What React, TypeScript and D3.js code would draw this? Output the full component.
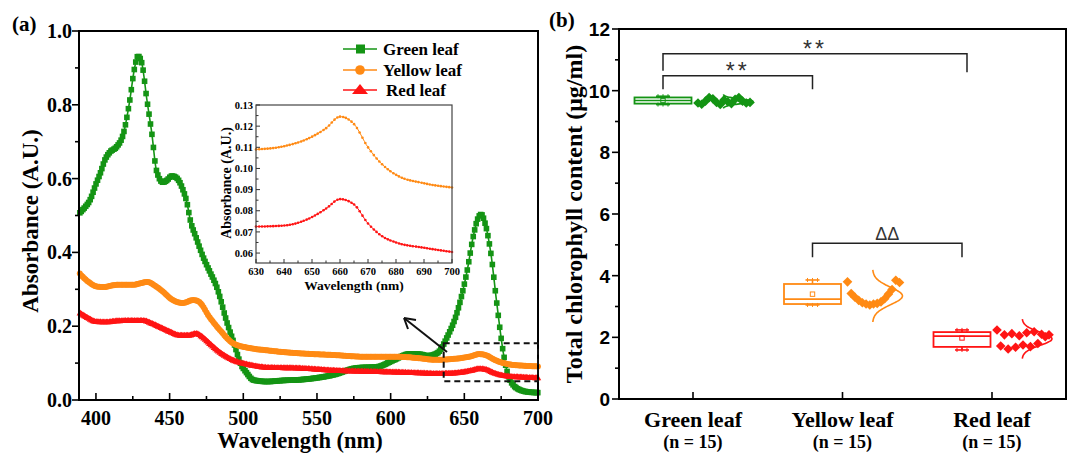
import React, { useEffect, useRef } from "react";
import * as d3 from "d3";

const W = 1071;
const H = 456;

// ---- panel (a): absorbance spectra ----
const greenWl = [388.5, 392, 396, 400, 403, 406, 409.5, 414, 418.5, 423, 426, 428.5, 431, 434.6, 438, 441, 445.5, 448, 451.5, 454, 456, 459, 461.8, 464, 468, 472.7, 477, 482, 489, 494, 498, 502, 507, 516, 527, 538.6, 550, 561, 577, 591, 602, 613, 620, 625, 631.6, 638.4, 645, 652, 656, 659, 661.5, 664, 668, 672, 676.5, 681, 688, 695, 700];
const greenAbs = [0.505, 0.52, 0.542, 0.585, 0.615, 0.65, 0.672, 0.686, 0.72, 0.813, 0.895, 0.932, 0.915, 0.813, 0.72, 0.623, 0.59, 0.595, 0.607, 0.604, 0.596, 0.57, 0.534, 0.488, 0.44, 0.388, 0.35, 0.306, 0.209, 0.15, 0.1, 0.075, 0.054, 0.05, 0.053, 0.055, 0.06, 0.068, 0.087, 0.09, 0.108, 0.125, 0.124, 0.12, 0.127, 0.171, 0.236, 0.352, 0.442, 0.49, 0.503, 0.48, 0.398, 0.263, 0.127, 0.054, 0.027, 0.021, 0.02];

const yellowWl = [388.5, 392, 396, 400, 405, 414, 425, 430, 435, 440, 445, 452, 459, 466, 470, 477, 484, 493, 504, 515, 527, 540, 561, 584, 606, 620, 630, 640, 650, 655, 660, 665, 670, 675, 680, 690, 700];
const yellowAbs = [0.345, 0.33, 0.317, 0.308, 0.306, 0.312, 0.312, 0.316, 0.32, 0.31, 0.295, 0.271, 0.263, 0.271, 0.266, 0.225, 0.19, 0.154, 0.141, 0.135, 0.13, 0.126, 0.122, 0.117, 0.117, 0.113, 0.109, 0.1105, 0.115, 0.119, 0.1245, 0.121, 0.11, 0.102, 0.097, 0.093, 0.091];

const redWl = [388.5, 395, 400, 407, 414, 425, 432, 438, 443.5, 450, 457, 463, 468, 472, 477, 483, 489, 494, 500, 508, 516, 538, 561, 585, 606, 620, 630, 640, 650, 655, 660, 665, 670, 675, 680, 690, 700];
const redAbs = [0.238, 0.222, 0.213, 0.212, 0.215, 0.216, 0.216, 0.208, 0.198, 0.186, 0.176, 0.176, 0.181, 0.172, 0.154, 0.133, 0.117, 0.107, 0.1, 0.093, 0.089, 0.087, 0.081, 0.078, 0.076, 0.074, 0.0725, 0.073, 0.077, 0.081, 0.0855, 0.083, 0.074, 0.068, 0.065, 0.0625, 0.0605];

const xTicksA = [400, 450, 500, 550, 600, 650, 700];
const yTicksA = [0.0, 0.2, 0.4, 0.6, 0.8, 1.0];
const xTicksInset = [630, 640, 650, 660, 670, 680, 690, 700];
const yTicksInset = [0.06, 0.07, 0.08, 0.09, 0.1, 0.11, 0.12, 0.13];
const zoomBox = { wl: [636, 700], abs: [0.051, 0.154] };

// ---- panel (b): chlorophyll box chart ----
const categories = ["Green leaf", "Yellow leaf", "Red leaf"];
const sampleSizes = [15, 15, 15];
const greenPts = [9.6, 9.56, 9.66, 9.78, 9.74, 9.62, 9.55, 9.7, 9.64, 9.58, 9.72, 9.78, 9.66, 9.6, 9.62];
const yellowPts = [3.8, 3.42, 3.3, 3.2, 3.12, 3.08, 3.05, 3.08, 3.1, 3.15, 3.25, 3.4, 3.55, 3.85, 3.78];
const redPts = [2.24, 1.72, 2.08, 1.62, 2.12, 1.68, 2.05, 1.75, 2.15, 1.7, 2.18, 1.8, 2.1, 2.02, 2.08];
const boxLow = [9.55, 3.05, 1.59];
const boxQ1 = [9.58, 3.08, 1.69];
const boxMedian = [9.68, 3.24, 2.04];
const boxQ3 = [9.78, 3.73, 2.17];
const boxHigh = [9.82, 3.86, 2.24];
const boxMean = [9.68, 3.4, 1.98];
const yTicksB = [0, 2, 4, 6, 8, 10, 12];

const colors = ["#149414", "#ff8a14", "#ff1414"];
const serif = "'Liberation Serif', 'Times New Roman', serif";
const sans = "'Liberation Sans', Arial, sans-serif";

const xA = d3.scaleLinear().domain([388.5, 700]).range([79, 538]);
const yA = d3.scaleLinear().domain([0, 1]).range([400, 31]);
const xI = d3.scaleLinear().domain([630, 700]).range([256, 452]);
const yI = d3.scaleLinear().domain([0.0553, 0.13]).range([263, 105]);
const xB = d3.scalePoint<string>().domain(categories).range([619, 1066]).padding(0.495);
const yB = d3.scaleLinear().domain([0, 12]).range([399, 29]);

const mainLine = d3
  .line<[number, number]>()
  .x((d) => xA(d[0]))
  .y((d) => yA(d[1]))
  .curve(d3.curveMonotoneX);
const insetLine = d3
  .line<[number, number]>()
  .x((d) => xI(d[0]))
  .y((d) => yI(d[1]))
  .curve(d3.curveMonotoneX);

const zipd = (a: number[], b: number[]) => a.map((v, i) => [v, b[i]] as [number, number]);
const greenData = zipd(greenWl, greenAbs);
const yellowData = zipd(yellowWl, yellowAbs);
const redData = zipd(redWl, redAbs);
const yellowInset = yellowData.filter((d) => d[0] >= 630);
const redInset = redData.filter((d) => d[0] >= 630);

const groups = [greenPts, yellowPts, redPts];

// sample a drawn path at given pixel x positions
function sampleAt(node: SVGPathElement, xs: number[]) {
  const L = node.getTotalLength();
  const pts: DOMPoint[] = [];
  for (let l = 0; l <= L; l += 0.4) pts.push(node.getPointAtLength(l));
  let j = 0;
  return xs.map((x) => {
    while (j < pts.length - 1 && pts[j].x < x) j++;
    return pts[j];
  });
}

const App = () => {
  const svgRef = useRef<SVGSVGElement>(null);

  useEffect(() => {
    const svg = d3.select(svgRef.current);
    svg.selectAll(".mk").remove();
    const wlMain = d3.range(389, 700.1, 1).map((w) => xA(w));
    const wlInset = d3.range(630, 700.1, 1).map((w) => xI(w));

    const g = svg.select<SVGGElement>("#markers");
    const put = (id: string, xs: number[], draw: (p: DOMPoint) => void) => {
      const node = svg.select<SVGPathElement>(id).node();
      if (!node) return;
      sampleAt(node, xs).forEach(draw);
    };
    put("#line-green", wlMain, (p) =>
      g.append("rect").attr("class", "mk").attr("x", p.x - 2.8).attr("y", p.y - 2.8)
        .attr("width", 5.6).attr("height", 5.6).attr("fill", colors[0])
    );
    put("#line-yellow", wlMain, (p) =>
      g.append("circle").attr("class", "mk").attr("cx", p.x).attr("cy", p.y).attr("r", 3).attr("fill", colors[1])
    );
    put("#line-red", wlMain, (p) =>
      g.append("path").attr("class", "mk")
        .attr("d", `M${p.x},${p.y - 3.3}L${p.x + 3.4},${p.y + 2.6}L${p.x - 3.4},${p.y + 2.6}Z`)
        .attr("fill", colors[2])
    );
    const gi = svg.select<SVGGElement>("#inset-markers");
    put("#inset-yellow", wlInset, (p) =>
      gi.append("circle").attr("class", "mk").attr("cx", p.x).attr("cy", p.y).attr("r", 1.3).attr("fill", colors[1])
    );
    put("#inset-red", wlInset, (p) =>
      gi.append("circle").attr("class", "mk").attr("cx", p.x).attr("cy", p.y).attr("r", 1.3).attr("fill", colors[2])
    );
  }, []);

  const minorXA = d3.range(400, 701, 25);
  const minorYA = d3.range(0, 1.01, 0.1);
  const minorXI = d3.range(630, 701, 5);
  const minorYI = d3.range(0.06, 0.1301, 0.005);
  const minorYB = d3.range(0, 12.01, 1);

  const legendRows = [
    { label: "Green leaf", color: colors[0], y: 49 },
    { label: "Yellow leaf", color: colors[1], y: 70 },
    { label: "Red leaf", color: colors[2], y: 90 },
  ];

  const boxHalf = 28.5;
  const boxOffset = -30;

  // significance brackets
  const brackets = [
    { a: 0, b: 2, y: 11.2, leg: [10.65, 10.6], text: "**" },
    { a: 0, b: 1, y: 10.48, leg: [10.05, 10.05], text: "**" },
    { a: 1, b: 2, y: 5.05, leg: [4.6, 4.6], text: "ΔΔ" },
  ];

  return (
    <svg ref={svgRef} width={W} height={H} style={{ position: "absolute", left: 0, top: 0, background: "#fff" }}>
      {/* ---------- panel (a) ---------- */}
      <text x={12} y={31} fontFamily={serif} fontWeight="bold" fontSize={21}>(a)</text>

      <g>
        <path id="line-green" d={mainLine(greenData) ?? ""} fill="none" stroke={colors[0]} strokeWidth={1.6} />
        <path id="line-yellow" d={mainLine(yellowData) ?? ""} fill="none" stroke={colors[1]} strokeWidth={4.5} />
        <path id="line-red" d={mainLine(redData) ?? ""} fill="none" stroke={colors[2]} strokeWidth={4.5} />
        <g id="markers" />
      </g>

      {/* frame + axes */}
      <rect x={79} y={31} width={538 - 79} height={400 - 31} fill="none" stroke="#000" strokeWidth={2} />
      {minorXA.map((t) => (
        <line key={"xa" + t} x1={xA(t)} x2={xA(t)} y1={400} y2={400 - (t % 50 === 0 ? 7 : 4)} stroke="#000" strokeWidth={1.6} />
      ))}
      {minorYA.map((t) => (
        <line key={"ya" + t} x1={79} x2={79 - (Math.round(t * 10) % 2 === 0 ? 7 : 4)} y1={yA(t)} y2={yA(t)} stroke="#000" strokeWidth={1.6} />
      ))}
      {xTicksA.map((t) => (
        <text key={"xl" + t} x={xA(t)} y={425} textAnchor="middle" fontFamily={serif} fontWeight="bold" fontSize={20}>{t}</text>
      ))}
      {yTicksA.map((t) => (
        <text key={"yl" + t} x={72} y={yA(t)} dy="0.35em" textAnchor="end" fontFamily={serif} fontWeight="bold" fontSize={20}>{t.toFixed(1)}</text>
      ))}
      <text x={300} y={448} textAnchor="middle" fontFamily={serif} fontWeight="bold" fontSize={22.5}>Wavelength (nm)</text>
      <text transform="translate(38,221) rotate(-90)" textAnchor="middle" fontFamily={serif} fontWeight="bold" fontSize={23}>Absorbance (A.U.)</text>

      {/* legend */}
      {legendRows.map((r, i) => (
        <g key={r.label}>
          <line x1={343} x2={377} y1={r.y} y2={r.y} stroke={r.color} strokeWidth={1.5} />
          {i === 0 && <rect x={356} y={r.y - 4.5} width={9} height={9} fill={r.color} />}
          {i === 1 && <circle cx={360} cy={r.y} r={4.8} fill={r.color} />}
          {i === 2 && <path d={`M360,${r.y - 6}L368,${r.y + 4}L352,${r.y + 4}Z`} fill={r.color} />}
          <text x={i === 2 ? 386 : 383} y={r.y} dy="0.35em" fontFamily={serif} fontWeight="bold" fontSize={17}>{r.label}</text>
        </g>
      ))}

      {/* zoom box + arrow */}
      <rect
        x={xA(zoomBox.wl[0])}
        y={yA(zoomBox.abs[1])}
        width={xA(zoomBox.wl[1]) - xA(zoomBox.wl[0])}
        height={yA(zoomBox.abs[0]) - yA(zoomBox.abs[1])}
        fill="none"
        stroke="#111"
        strokeWidth={2}
        strokeDasharray="6,4"
      />
      <line x1={447} y1={352} x2={404} y2={318} stroke="#111" strokeWidth={2} />
      <path d="M404,318 L416,320 M404,318 L408,329" stroke="#111" strokeWidth={2} fill="none" />

      {/* inset */}
      <rect x={256} y={105} width={452 - 256} height={263 - 105} fill="#fff" stroke="none" />
      <path id="inset-yellow" d={insetLine(yellowInset) ?? ""} fill="none" stroke={colors[1]} strokeWidth={1} />
      <path id="inset-red" d={insetLine(redInset) ?? ""} fill="none" stroke={colors[2]} strokeWidth={1} />
      <g id="inset-markers" />
      <rect x={256} y={105} width={452 - 256} height={263 - 105} fill="none" stroke="#444" strokeWidth={1.2} />
      {minorXI.map((t) => (
        <line key={"xi" + t} x1={xI(t)} x2={xI(t)} y1={263} y2={263 - (t % 10 === 0 ? 4 : 2.5)} stroke="#333" strokeWidth={1} />
      ))}
      {minorYI.map((t, i) => (
        <line key={"yi" + i} x1={256} x2={256 + (i % 2 === 0 ? 4 : 2.5)} y1={yI(t)} y2={yI(t)} stroke="#333" strokeWidth={1} />
      ))}
      {xTicksInset.map((t) => (
        <text key={"xil" + t} x={xI(t)} y={275} textAnchor="middle" fontFamily={serif} fontWeight="bold" fontSize={10.5}>{t}</text>
      ))}
      {yTicksInset.map((t) => (
        <text key={"yil" + t} x={253} y={yI(t)} dy="0.35em" textAnchor="end" fontFamily={serif} fontWeight="bold" fontSize={10.5}>{t.toFixed(2)}</text>
      ))}
      <text x={354} y={290} textAnchor="middle" fontFamily={serif} fontWeight="bold" fontSize={13.5}>Wavelength (nm)</text>
      <text transform="translate(231,183) rotate(-90)" textAnchor="middle" fontFamily={serif} fontWeight="bold" fontSize={14}>Absorbance (A.U.)</text>

      {/* ---------- panel (b) ---------- */}
      <text x={549} y={27} fontFamily={serif} fontWeight="bold" fontSize={21}>(b)</text>
      <rect x={619} y={29} width={1066 - 619} height={399 - 29} fill="none" stroke="#000" strokeWidth={2} />
      {minorYB.map((t) => (
        <line key={"yb" + t} x1={619} x2={619 - (t % 2 === 0 ? 7 : 4)} y1={yB(t)} y2={yB(t)} stroke="#000" strokeWidth={1.6} />
      ))}
      {yTicksB.map((t) => (
        <text key={"ybl" + t} x={610} y={yB(t)} dy="0.36em" textAnchor="end" fontFamily={sans} fontWeight="bold" fontSize={19}>{t}</text>
      ))}
      {categories.map((c, i) => (
        <g key={c}>
          <line x1={xB(c)!} x2={xB(c)!} y1={399} y2={392} stroke="#000" strokeWidth={1.6} />
          <text x={xB(c)!} y={427} textAnchor="middle" fontFamily={serif} fontWeight="bold" fontSize={22}>{c}</text>
          <text x={xB(c)!} y={448} textAnchor="middle" fontFamily={serif} fontWeight="bold" fontSize={18}>{`(n = ${sampleSizes[i]})`}</text>
        </g>
      ))}
      <text transform="translate(582,214) rotate(-90)" textAnchor="middle" fontFamily={serif} fontWeight="bold" fontSize={24}>Total chlorophyll content (μg/ml)</text>

      {/* boxes, points, distribution curves */}
      {categories.map((c, i) => {
        const cx = xB(c)! + boxOffset;
        const col = colors[i];
        const pts = groups[i];
        const m = d3.mean(pts)!;
        const s = d3.deviation(pts)!;
        const base = xB(c)! + 30;
        const curve = d3.range(-3, 3.01, 0.1).map((z) => [base + 30 * Math.exp(-(z * z) / 2), yB(m + z * s)] as [number, number]);
        const px = d3.scaleLinear().domain([0, pts.length - 1]).range([xB(c)! + 5, xB(c)! + 57]);
        return (
          <g key={"box" + c}>
            <path d={d3.line().curve(d3.curveBasis)(curve) ?? ""} fill="none" stroke={col} strokeWidth={1.6} />
            {pts.map((v, k) => (
              <path key={k} d={`M${px(k)},${yB(v) - 4.8}L${px(k) + 4.8},${yB(v)}L${px(k)},${yB(v) + 4.8}L${px(k) - 4.8},${yB(v)}Z`} fill={col} />
            ))}
            <rect x={cx - boxHalf} y={yB(boxQ3[i])} width={boxHalf * 2} height={yB(boxQ1[i]) - yB(boxQ3[i])} fill="none" stroke={col} strokeWidth={1.8} />
            <line x1={cx - boxHalf} x2={cx + boxHalf} y1={yB(boxMedian[i])} y2={yB(boxMedian[i])} stroke={col} strokeWidth={1.6} />
            <line x1={cx} x2={cx} y1={yB(boxQ3[i])} y2={yB(boxHigh[i])} stroke={col} strokeWidth={1.6} />
            <line x1={cx} x2={cx} y1={yB(boxQ1[i])} y2={yB(boxLow[i])} stroke={col} strokeWidth={1.6} />
            <line x1={cx - 7} x2={cx + 7} y1={yB(boxHigh[i])} y2={yB(boxHigh[i])} stroke={col} strokeWidth={1.6} />
            <line x1={cx - 7} x2={cx + 7} y1={yB(boxLow[i])} y2={yB(boxLow[i])} stroke={col} strokeWidth={1.6} />
            {[-5, 0, 5].map((d) => (
              <g key={d}>
                <line x1={cx + d} x2={cx + d} y1={yB(boxHigh[i]) - 2} y2={yB(boxHigh[i]) + 2} stroke={col} strokeWidth={1} />
                <line x1={cx + d} x2={cx + d} y1={yB(boxLow[i]) - 2} y2={yB(boxLow[i]) + 2} stroke={col} strokeWidth={1} />
              </g>
            ))}
            <rect x={cx - 2.2} y={yB(boxMean[i]) - 2.2} width={4.4} height={4.4} fill="none" stroke={col} strokeWidth={1} />
          </g>
        );
      })}

      {/* significance brackets */}
      {brackets.map((b, i) => {
        const x1 = xB(categories[b.a])! + boxOffset;
        const x2 = xB(categories[b.b])! + boxOffset + (i === 0 ? 5 : 0);
        const y = yB(b.y);
        const delta = b.text === "ΔΔ";
        return (
          <g key={"br" + i}>
            <path d={`M${x1},${yB(b.leg[0])}V${y}H${x2}V${yB(b.leg[1])}`} fill="none" stroke="#222" strokeWidth={1.5} />
            <text
              x={(x1 + x2) / 2}
              y={delta ? y - 3 : y + 3}
              textAnchor="middle"
              fontFamily={sans}
              fontSize={delta ? 18 : 23}
              letterSpacing={delta ? 0 : 3}
              fill="#333"
            >
              {b.text}
            </text>
          </g>
        );
      })}
    </svg>
  );
};

export default App;
